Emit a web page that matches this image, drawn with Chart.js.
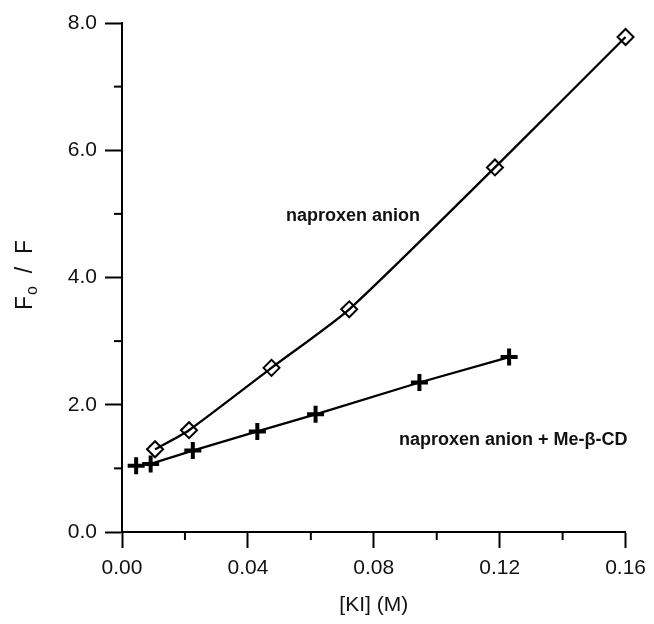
<!DOCTYPE html>
<html lang="en">

<head>
    <meta charset="UTF-8" />
    <title>Fo / F vs [KI]</title>
    <script src="https://cdn.jsdelivr.net/npm/chart.js"></script>
    <style>
        * {
            margin: 0;
            padding: 0;
            box-sizing: border-box;
        }

        body {
            background: #ffffff;
        }

        .chart-container {
            width: 654px;
            height: 624px;
        }
    </style>
</head>

<body>
    <div class="chart-container">
        <canvas id="quenchChart"></canvas>
    </div>

    <script>
        // naproxen anion (diamonds)
        const anionKI = [0.0105, 0.0213, 0.0475, 0.0722, 0.1185, 0.1600];
        const anionRatio = [1.30, 1.60, 2.58, 3.50, 5.73, 7.78];

        // naproxen anion + Me-beta-CD (crosses)
        const cdKI = [0.0045, 0.0091, 0.0225, 0.0430, 0.0615, 0.0945, 0.1230];
        const cdRatio = [1.04, 1.07, 1.28, 1.58, 1.85, 2.35, 2.75];

        const xTicks = [0, 0.04, 0.08, 0.12, 0.16];
        const xMinorTicks = [0.02, 0.06, 0.10, 0.14];
        const yTicks = [0, 2, 4, 6, 8];
        const yMinorTicks = [1, 3, 5, 7];

        const seriesNames = ["naproxen anion", "naproxen anion + Me-β-CD"];

        const FONT = "'Liberation Sans', Arial, sans-serif";
        const INK = "#111111";

        const extrasPlugin = {
            id: 'extras',
            afterDraw(chart) {
                const { ctx, chartArea, scales } = chart;
                const x = scales.x, y = scales.y;
                ctx.save();
                ctx.strokeStyle = "#000";
                ctx.lineWidth = 2;

                // minor ticks
                xMinorTicks.forEach(v => {
                    const px = x.getPixelForValue(v);
                    ctx.beginPath();
                    ctx.moveTo(px, chartArea.bottom);
                    ctx.lineTo(px, chartArea.bottom + 8);
                    ctx.stroke();
                });
                yMinorTicks.forEach(v => {
                    const py = y.getPixelForValue(v);
                    ctx.beginPath();
                    ctx.moveTo(chartArea.left, py);
                    ctx.lineTo(chartArea.left - 8, py);
                    ctx.stroke();
                });

                // series labels
                ctx.fillStyle = INK;
                ctx.font = `bold 18px ${FONT}`;
                ctx.textAlign = "center";
                ctx.textBaseline = "middle";
                ctx.fillText(seriesNames[0], x.getPixelForValue(0.0734), y.getPixelForValue(4.96));
                ctx.fillText(seriesNames[1], x.getPixelForValue(0.1243), y.getPixelForValue(1.44));

                // y axis title with subscript: F_o / F
                const big = `23px ${FONT}`, small = `16px ${FONT}`;
                const rest = "  /  F";
                ctx.font = big;
                const wF = ctx.measureText("F").width;
                const wRest = ctx.measureText(rest).width;
                ctx.font = small;
                const wSub = ctx.measureText("o").width + 1;
                const total = wF + wSub + wRest;
                ctx.translate(24, 275);
                ctx.rotate(-Math.PI / 2);
                ctx.textAlign = "left";
                ctx.textBaseline = "alphabetic";
                let cx = -total / 2;
                ctx.font = big;
                ctx.fillText("F", cx, 8);
                cx += wF + 1;
                ctx.font = small;
                ctx.fillText("o", cx, 13);
                cx += wSub - 1;
                ctx.font = big;
                ctx.fillText(rest, cx, 8);
                ctx.restore();
            }
        };

        const ctx = document.getElementById("quenchChart").getContext("2d");
        new Chart(ctx, {
            type: "scatter",
            data: {
                datasets: [
                    {
                        label: seriesNames[0],
                        data: anionKI.map((v, i) => ({ x: v, y: anionRatio[i] })),
                        showLine: true,
                        borderColor: "#000",
                        borderWidth: 2.3,
                        tension: 0.2,
                        pointStyle: "rectRot",
                        pointRadius: 8,
                        pointBorderWidth: 2,
                        pointBorderColor: "#000",
                        pointBackgroundColor: "rgba(0,0,0,0)",
                        clip: false
                    },
                    {
                        label: seriesNames[1],
                        data: cdKI.map((v, i) => ({ x: v, y: cdRatio[i] })),
                        showLine: true,
                        borderColor: "#000",
                        borderWidth: 2.3,
                        tension: 0,
                        pointStyle: "cross",
                        pointRadius: 8.5,
                        pointBorderWidth: 4,
                        pointBorderColor: "#000",
                        clip: false
                    }
                ]
            },
            options: {
                responsive: true,
                maintainAspectRatio: false,
                animation: false,
                layout: {
                    padding: { left: 0, right: 23, top: 23, bottom: 0 }
                },
                scales: {
                    x: {
                        type: "linear",
                        min: 0,
                        max: 0.16,
                        afterBuildTicks: s => { s.ticks = xTicks.map(v => ({ value: v })); },
                        afterFit: s => { s.height = 92; },
                        border: { display: true, color: "#000", width: 2 },
                        grid: {
                            drawOnChartArea: false,
                            drawTicks: true,
                            tickLength: 16,
                            tickWidth: 2,
                            tickColor: "#000",
                            color: "#000"
                        },
                        ticks: {
                            padding: 8,
                            color: INK,
                            font: { family: FONT, size: 21 },
                            maxRotation: 0,
                            callback: v => v.toFixed(2)
                        },
                        title: {
                            display: true,
                            text: "[KI] (M)",
                            color: INK,
                            font: { family: FONT, size: 21 },
                            padding: { top: 0, bottom: 6 }
                        }
                    },
                    y: {
                        type: "linear",
                        min: 0,
                        max: 8,
                        afterBuildTicks: s => { s.ticks = yTicks.map(v => ({ value: v })); },
                        afterFit: s => { s.width = 122; },
                        border: { display: true, color: "#000", width: 2 },
                        grid: {
                            drawOnChartArea: false,
                            drawTicks: true,
                            tickLength: 17,
                            tickWidth: 2,
                            tickColor: "#000",
                            color: "#000"
                        },
                        ticks: {
                            padding: 8,
                            color: INK,
                            font: { family: FONT, size: 21 },
                            callback: v => v.toFixed(1)
                        }
                    }
                },
                plugins: {
                    legend: { display: false },
                    tooltip: { enabled: false }
                }
            },
            plugins: [extrasPlugin]
        });
    </script>

</body>

</html>
